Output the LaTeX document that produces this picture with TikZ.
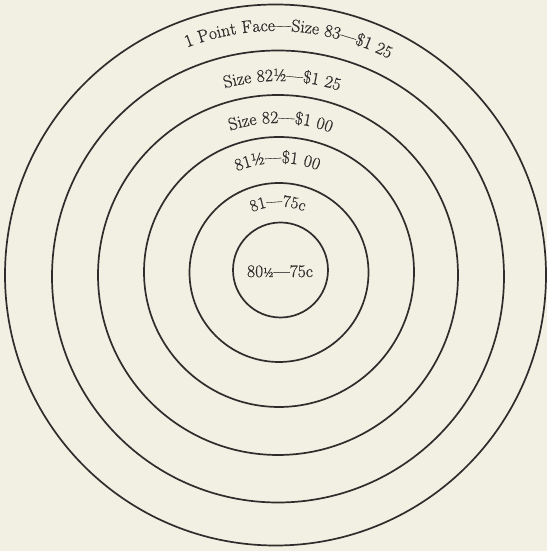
\documentclass[tikz,border=0pt]{standalone}
\usepackage{fontspec}
\setmainfont[FakeBold=0.6]{Latin Modern Roman}
\usepackage{tikz}
\usetikzlibrary{decorations.text}
\definecolor{paper}{HTML}{F2F0E2}
\definecolor{ink}{HTML}{2E2D2C}
\newcommand{\ringfont}{\fontsize{17.5}{20}\selectfont\color{ink}}
\newcommand{\smallring}{\fontsize{16.8}{20}\selectfont\color{ink}}

\begin{document}
\begin{tikzpicture}[
  x=1pt, y=1pt,
  ring/.style={draw=ink, line width=1.7pt},
  ringlabel/.style={decorate, decoration={text along path, text align=center, text color=ink}},
]
  \useasboundingbox[fill=paper] (0,0) rectangle (547,551);
  % ring centres
  \coordinate (c1) at (275.5,276);
  \coordinate (c2) at (278,274.5);
  \coordinate (c3) at (278,276);
  \coordinate (c4) at (279,279);
  \coordinate (c5) at (279,278.5);
  \coordinate (c6) at (280.5,281);
  % rings
  \draw[ring] (c1) circle[radius=270.5pt];
  \draw[ring] (c2) circle[radius=226pt];
  \draw[ring] (c3) circle[radius=180pt];
  \draw[ring] (c4) circle[radius=135pt];
  \draw[ring] (c5) circle[radius=89.5pt];
  \draw[ring] (c6) circle[radius=47.5pt];
  % labels along the rings
  \path[ringlabel, decoration={text={|\ringfont|1 Point Face—Size 83—{\$}1 25}}]
    (c1) ++(131.8:244pt) arc[start angle=131.8, end angle=41.8, radius=244pt];
  \path[ringlabel, decoration={text={|\ringfont|Size 82½—{\$}1 25}}]
    (c2) ++(133.8:195.5pt) arc[start angle=133.8, end angle=43.8, radius=195.5pt];
  \path[ringlabel, decoration={text={|\ringfont|Size 82—{\$}1 00}}]
    (c3) ++(139:152pt) arc[start angle=139, end angle=39, radius=152pt];
  \path[ringlabel, decoration={text={|\ringfont|81½—{\$}1 00}}]
    (c4) ++(150.8:109pt) arc[start angle=150.8, end angle=30.8, radius=109pt];
  \path[ringlabel, decoration={text={|\smallring|81—75c}}]
    (c5) ++(160.9:66pt) arc[start angle=160.9, end angle=20.9, radius=66pt];
  % centre label
  \node[anchor=base, font=\ringfont, inner sep=0pt] (centre) at (280,274) {80{\fontsize{13}{13}\selectfont ½}—75c};
\end{tikzpicture}
\end{document}
